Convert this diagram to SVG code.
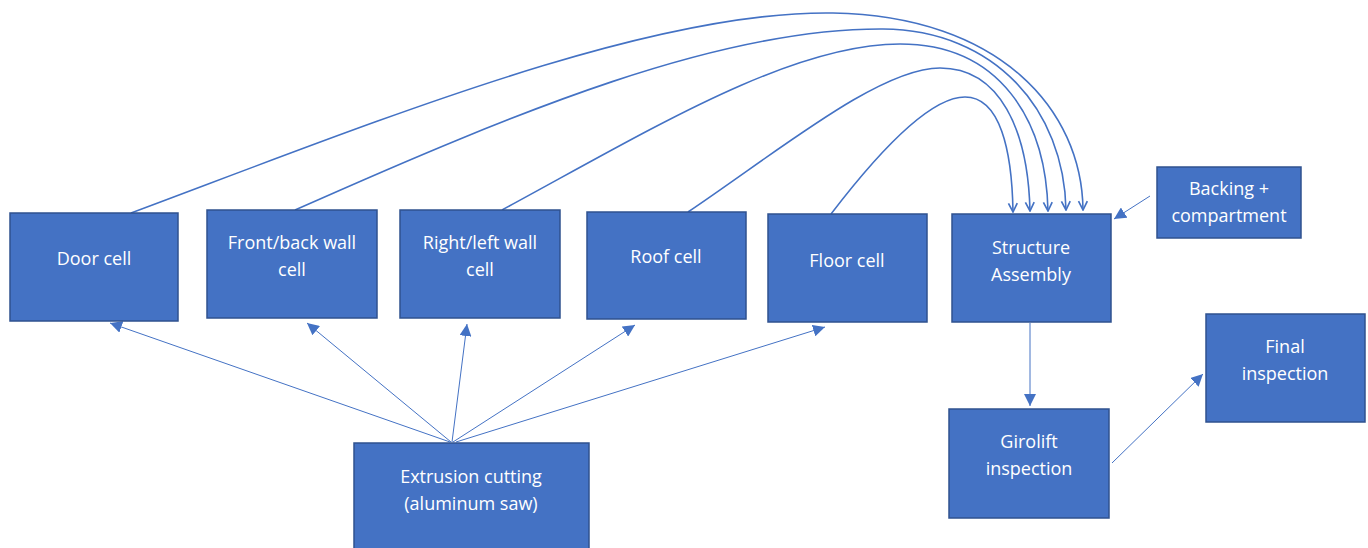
<svg xmlns="http://www.w3.org/2000/svg" width="1368" height="548" viewBox="0 0 1368 548">
<defs>
<style>
.box{fill:#4472C4;stroke:#2F528F;stroke-width:1.5}
.t{fill:#ffffff;font-family:"Open Sans","Liberation Sans",sans-serif;font-size:18px;text-anchor:middle}
.curve{fill:none;stroke:#4472C4;stroke-width:1.6}
.arr{fill:none;stroke:#4472C4;stroke-width:1}
</style>
<marker id="open" viewBox="0 0 10 10" refX="9" refY="5" markerWidth="11" markerHeight="11" markerUnits="userSpaceOnUse" orient="auto">
<path d="M1,1 L9,5 L1,9" fill="none" stroke="#4472C4" stroke-width="1.5"/>
</marker>
<marker id="tri" viewBox="0 0 10 10" refX="10" refY="5" markerWidth="12" markerHeight="12" markerUnits="userSpaceOnUse" orient="auto">
<path d="M0,0 L10,5 L0,10 Z" fill="#4472C4"/>
</marker>
</defs>
<rect width="1368" height="548" fill="#ffffff"/>
<g id="connectors">
<path class="curve" marker-end="url(#open)" d="M131,213 C380,120 650,10 833,13 C1000,16 1082,110 1083,210"/>
<path class="curve" marker-end="url(#open)" d="M295,210 C520,110 720,28 883,29 C995,30 1064,110 1066,210"/>
<path class="curve" marker-end="url(#open)" d="M502,210 C650,130 790,44 900,44 C1000,44 1046,120 1048,211"/>
<path class="curve" marker-end="url(#open)" d="M688,212 C780,150 880,68 940,68 C1000,68 1028,130 1030,211"/>
<path class="curve" marker-end="url(#open)" d="M831,214 C880,150 930,97 965,97 C1000,97 1012,150 1013,212"/>
<line class="arr" marker-end="url(#tri)" x1="450" y1="442" x2="110" y2="323"/>
<line class="arr" marker-end="url(#tri)" x1="451" y1="442" x2="307" y2="323"/>
<line class="arr" marker-end="url(#tri)" x1="452" y1="442" x2="467" y2="324"/>
<line class="arr" marker-end="url(#tri)" x1="453" y1="442" x2="635" y2="325"/>
<line class="arr" marker-end="url(#tri)" x1="456" y1="442" x2="825" y2="327"/>
<line class="arr" marker-end="url(#tri)" x1="1150" y1="196" x2="1114" y2="219"/>
<line class="arr" marker-end="url(#tri)" x1="1030" y1="323" x2="1030" y2="406"/>
<line class="arr" marker-end="url(#tri)" x1="1112" y1="463" x2="1203" y2="374"/>
</g>
<g id="door"><rect class="box" x="10" y="213" width="168" height="108"/><text class="t" x="94" y="265">Door cell</text></g>
<g id="frontback"><rect class="box" x="207" y="210" width="170" height="108"/><text class="t" x="292" y="249">Front/back wall</text><text class="t" x="292" y="276">cell</text></g>
<g id="rightleft"><rect class="box" x="400" y="210" width="160" height="108"/><text class="t" x="480" y="249">Right/left wall</text><text class="t" x="480" y="276">cell</text></g>
<g id="roof"><rect class="box" x="587" y="212" width="159" height="107"/><text class="t" x="666" y="263">Roof cell</text></g>
<g id="floor"><rect class="box" x="768" y="214" width="159" height="108"/><text class="t" x="847" y="267">Floor cell</text></g>
<g id="structure"><rect class="box" x="952" y="214" width="159" height="108"/><text class="t" x="1031" y="254">Structure</text><text class="t" x="1031" y="281">Assembly</text></g>
<g id="backing"><rect class="box" x="1157" y="167" width="144" height="71"/><text class="t" x="1229" y="195">Backing +</text><text class="t" x="1229" y="222">compartment</text></g>
<g id="girolift"><rect class="box" x="949" y="409" width="160" height="109"/><text class="t" x="1029" y="448">Girolift</text><text class="t" x="1029" y="475">inspection</text></g>
<g id="final"><rect class="box" x="1206" y="314" width="159" height="108"/><text class="t" x="1285" y="353">Final</text><text class="t" x="1285" y="380">inspection</text></g>
<g id="extrusion"><rect class="box" x="354" y="443" width="235" height="110"/><text class="t" x="471" y="483">Extrusion cutting</text><text class="t" x="471" y="510">(aluminum saw)</text></g>
</svg>
